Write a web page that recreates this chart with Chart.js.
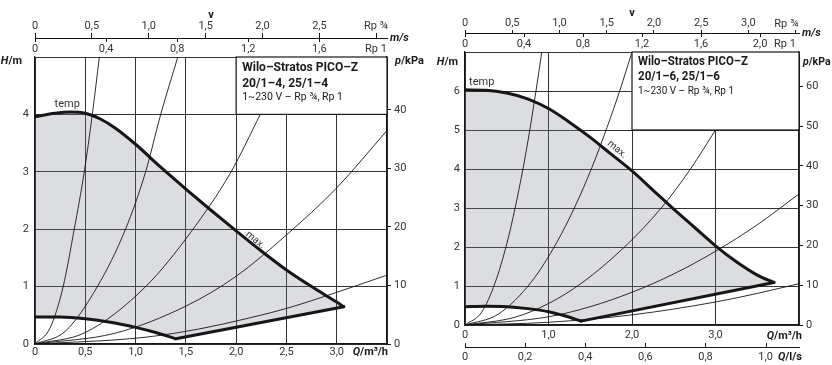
<!DOCTYPE html>
<html>
<head>
<meta charset="utf-8">
<script src="https://cdn.jsdelivr.net/npm/chart.js@4.4.1/dist/chart.umd.min.js"></script>
<style>
  html, body { margin: 0; padding: 0; background: #fff; }
  #wrap { position: relative; width: 832px; height: 365px; overflow: hidden; }
  .panel { position: absolute; top: 0; height: 365px; }
  #left { left: 0; width: 428px; }
  #right { left: 420px; width: 412px; }
</style>
</head>
<body>
<div id="wrap">
  <div class="panel" id="left"><canvas id="chart4"></canvas></div>
  <div class="panel" id="right"><canvas id="chart6"></canvas></div>
</div>
<script>
// ---- Wilo-Stratos PICO-Z 20/1-4, 25/1-4 (left) ----
const maxQ4 = [0, 0.2, 0.35, 0.5, 0.65, 0.8, 1.0, 1.25, 1.5, 1.75, 2.0, 2.25, 2.5, 2.75, 3.0, 3.07];
const maxH4 = [3.96, 4.02, 4.04, 4.02, 3.92, 3.76, 3.48, 3.08, 2.7, 2.33, 1.97, 1.62, 1.29, 1.0, 0.73, 0.65];
const minQ4 = [0, 0.25, 0.5, 0.75, 1.0, 1.2, 1.4];
const minH4 = [0.47, 0.47, 0.44, 0.38, 0.29, 0.2, 0.09];
const lowQ4 = [1.4, 3.07];
const lowH4 = [0.09, 0.65];
const sysQ4 = [
  [0, 0.15, 0.28, 0.39, 0.49, 0.57, 0.64],
  [0, 0.3, 0.62, 0.9, 1.1, 1.25, 1.42],
  [0, 0.5, 1.1, 1.55, 1.95, 2.24],
  [0, 0.8, 1.5, 2.0, 2.5, 3.0, 3.5],
  [0, 1.0, 1.5, 2.0, 2.5, 3.0, 3.5],
];
const sysH4 = [
  [0, 0.28, 1, 2, 3, 4, 5],
  [0, 0.22, 1, 2, 3, 4, 5],
  [0, 0.2, 1, 1.95, 3, 4],
  [0, 0.19, 0.66, 1.18, 1.9, 2.72, 3.72],
  [0, 0.1, 0.22, 0.4, 0.62, 0.9, 1.2],
];
const qTicks4 = [0, 0.5, 1.0, 1.5, 2.0, 2.5, 3.0, 3.5];
const hTicks4 = [0, 1, 2, 3, 4, 5];
const pTicks4 = [0, 10, 20, 30, 40];
const v34Ticks4 = [0, 0.5, 1.0, 1.5, 2.0, 2.5, 3.0];
const v1Ticks4 = [0, 0.4, 0.8, 1.2, 1.6];
const name4 = ["Wilo–Stratos PICO–Z", "20/1–4, 25/1–4", "1~230 V – Rp ¾, Rp 1"];

// ---- Wilo-Stratos PICO-Z 20/1-6, 25/1-6 (right) ----
const maxQ6 = [0, 0.25, 0.5, 0.75, 1.0, 1.25, 1.5, 1.75, 2.0, 2.25, 2.5, 2.75, 3.0, 3.25, 3.5, 3.7];
const maxH6 = [6.03, 6.02, 5.95, 5.8, 5.55, 5.2, 4.81, 4.38, 3.95, 3.46, 2.97, 2.5, 2.03, 1.62, 1.28, 1.09];
const minQ6 = [0, 0.25, 0.5, 0.75, 1.0, 1.2, 1.39];
const minH6 = [0.47, 0.48, 0.47, 0.42, 0.34, 0.23, 0.1];
const lowQ6 = [1.39, 3.7];
const lowH6 = [0.1, 1.09];
const sysQ6 = [
  [0, 0.2, 0.36, 0.5, 0.6, 0.7, 0.78, 0.85, 0.92],
  [0, 0.4, 0.8, 1.1, 1.32, 1.52, 1.7, 1.86, 2.0],
  [0, 0.6, 1.0, 1.4, 1.9, 2.35, 2.7, 3.0],
  [0, 1.0, 1.5, 2.0, 2.5, 3.0, 3.5, 4.0],
  [0, 1.0, 2.0, 3.0, 3.5, 4.0],
];
const sysH6 = [
  [0, 0.33, 1.08, 2.08, 3.0, 4.07, 5.05, 6.0, 7.0],
  [0, 0.28, 1.12, 2.12, 3.05, 4.04, 5.06, 6.05, 7.0],
  [0, 0.2, 0.55, 1.08, 1.98, 3.0, 4.0, 5.0],
  [0, 0.21, 0.47, 0.84, 1.31, 1.89, 2.57, 3.36],
  [0, 0.07, 0.26, 0.59, 0.81, 1.06],
];
const qTicks6 = [0, 1.0, 2.0, 3.0, 4.0];
const hTicks6 = [0, 1, 2, 3, 4, 5, 6, 7];
const pTicks6 = [0, 10, 20, 30, 40, 50, 60];
const v34Ticks6 = [0, 0.5, 1.0, 1.5, 2.0, 2.5, 3.0, 3.5];
const v1Ticks6 = [0, 0.4, 0.8, 1.2, 1.6, 2.0];
const lsTicks6 = [0, 0.2, 0.4, 0.6, 0.8, 1.0];
const name6 = ["Wilo–Stratos PICO–Z", "20/1–6, 25/1–6", "1~230 V – Rp ¾, Rp 1"];

const RHO_G = 9.81;   // kPa per m head
const V_RP34 = 0.884; // m/s per m³/h in Rp ¾
const V_RP1 = 0.566;  // m/s per m³/h in Rp 1

const FAMILY = "Roboto, 'Open Sans', sans-serif";
const INK = "#161616";
const GRID = "#333";
const TXT = "#333";
const FILL = "rgba(120,125,140,0.26)";

const fmt = (v) => (v === 0 ? "0" : v.toFixed(1).replace(".", ","));
const lastBlank = (f) => (v, i, arr) => (i === arr.length - 1 ? "" : f(v));
const setTicks = (vals) => (s) => {
  s.ticks = vals.map((v) => ({ value: v }));
};
const pts = (qs, hs) => qs.map((q, i) => ({ x: q, y: hs[i] }));

const richText = (ctx, parts, x, y, align, size) => {
  const fontOf = (it) => `${it ? "italic " : ""}bold ${size}px ${FAMILY}`;
  let total = 0;
  parts.forEach(([t, it]) => {
    ctx.font = fontOf(it);
    total += ctx.measureText(t).width;
  });
  let cx = align === "right" ? x - total : align === "center" ? x - total / 2 : x;
  ctx.textAlign = "left";
  ctx.textBaseline = "middle";
  parts.forEach(([t, it]) => {
    ctx.font = fontOf(it);
    ctx.fillText(t, cx, y);
    cx += ctx.measureText(t).width;
  });
};

const overlay = {
  id: "overlay",
  afterDatasetsDraw(chart, args, o) {
    const { ctx, chartArea: a, scales } = chart;
    const bx = scales.x.getPixelForValue(o.boxQ);
    const by = scales.y.getPixelForValue(o.boxH);
    ctx.save();
    ctx.fillStyle = "#fff";
    ctx.fillRect(bx, a.top, a.right - bx, by - a.top);
    ctx.strokeStyle = INK;
    ctx.lineWidth = 1.2;
    ctx.strokeRect(bx, a.top, a.right - bx, by - a.top);
    ctx.fillStyle = "#1a1a1a";
    ctx.textAlign = "left";
    ctx.textBaseline = "middle";
    o.name.forEach((line, i) => {
      ctx.font = `${i < 2 ? "bold " : ""}${o.nameSize[i]}px ${FAMILY}`;
      ctx.fillText(line, bx + o.namePad, a.top + o.nameY[i], o.nameW[i]);
    });
    ctx.restore();
  },
  afterDraw(chart, args, o) {
    const { ctx, chartArea: a, scales } = chart;
    const v34 = scales.v34;
    const v1 = scales.v1;
    const lineY = v34.bottom;
    ctx.save();
    ctx.strokeStyle = INK;
    ctx.lineWidth = 1;
    // Rp 1 ticks hang below the shared velocity line
    v1.ticks.forEach((t) => {
      const x = Math.round(v1.getPixelForValue(t.value)) + 0.5;
      ctx.beginPath();
      ctx.moveTo(x, lineY);
      ctx.lineTo(x, lineY + 4);
      ctx.stroke();
    });
    if (scales.ls) {
      const ls = scales.ls;
      ls.ticks.forEach((t) => {
        const x = Math.round(ls.getPixelForValue(t.value)) + 0.5;
        ctx.beginPath();
        ctx.moveTo(x, ls.top);
        ctx.lineTo(x, ls.top - 4);
        ctx.stroke();
      });
    }

    ctx.fillStyle = "#1a1a1a";
    richText(ctx, [["v", false]], (a.left + a.right) / 2, o.vY, "center", 11);
    richText(ctx, [["m/s", true]], a.right + 3, lineY, "left", 11);
    richText(ctx, [["H", true], ["/m", false]], a.left - o.hGap, o.unitY, "right", 11);
    richText(ctx, [["p", true], ["/kPa", false]], a.right + o.pGap, o.unitY, "left", o.pSize);
    richText(ctx, [["Q", true], ["/m³/h", false]], a.right + o.qGap, o.qY, "right", 11);
    if (scales.ls) {
      richText(ctx, [["Q", true], ["/l/s", false]], a.right + o.qGap, o.lsY, "right", 11);
    }

    ctx.fillStyle = TXT;
    ctx.font = `11px ${FAMILY}`;
    ctx.textAlign = "center";
    ctx.textBaseline = "middle";
    ctx.fillText("Rp ¾", a.right - o.rpOff[0], o.rpY[0]);
    ctx.fillText("Rp 1", a.right - o.rpOff[1], o.rpY[1]);
    ctx.fillText("temp", scales.x.getPixelForValue(o.temp[0]), scales.y.getPixelForValue(o.temp[1]));
    ctx.translate(scales.x.getPixelForValue(o.maxLbl[0]), scales.y.getPixelForValue(o.maxLbl[1]));
    ctx.rotate((o.maxLbl[2] * Math.PI) / 180);
    ctx.font = `10px ${FAMILY}`;
    ctx.fillText("max.", 0, 0);
    ctx.restore();
  },
};

const makePanel = (id, p) => {
  const tickFont = { family: FAMILY, size: 11 };
  const fillPts = pts(p.maxQ, p.maxH)
    .concat(pts(p.lowQ, p.lowH).reverse().slice(1))
    .concat(pts(p.minQ, p.minH).reverse().slice(1));
  const thick = { borderColor: INK, borderWidth: 3, borderCapStyle: "round", pointRadius: 0 };
  const datasets = [
    { ...thick, data: pts(p.maxQ, p.maxH), cubicInterpolationMode: "monotone" },
    { ...thick, data: pts(p.minQ, p.minH), cubicInterpolationMode: "monotone" },
    { ...thick, data: pts(p.lowQ, p.lowH) },
    ...p.sysQ.map((qs, i) => ({
      data: pts(qs, p.sysH[i]),
      borderColor: INK,
      borderWidth: 0.9,
      pointRadius: 0,
      cubicInterpolationMode: "monotone",
    })),
    {
      data: fillPts,
      borderWidth: 0,
      borderColor: "rgba(0,0,0,0)",
      backgroundColor: FILL,
      fill: "shape",
      tension: 0,
      pointRadius: 0,
    },
  ];

  const scales = {
    x: {
      type: "linear", position: "bottom", weight: 1, min: 0, max: p.qMax,
      afterBuildTicks: setTicks(p.qTicks),
      afterFit: (s) => { s.height = p.xH; },
      grid: { color: GRID, lineWidth: 1, drawTicks: false },
      border: { color: INK, width: 1.2 },
      ticks: { font: tickFont, color: TXT, padding: p.xPad, maxRotation: 0, autoSkip: false, callback: lastBlank(fmt) },
    },
    y: {
      type: "linear", position: "left", min: 0, max: p.hMax,
      afterBuildTicks: setTicks(p.hTicks),
      afterFit: (s) => { s.width = p.yW; },
      grid: { color: GRID, lineWidth: 1, drawTicks: false },
      border: { color: INK, width: 1.2 },
      ticks: { font: tickFont, color: TXT, padding: p.yPad, callback: lastBlank((v) => String(v)) },
    },
    p: {
      type: "linear", position: "right", min: 0, max: p.hMax * RHO_G,
      afterBuildTicks: setTicks(p.pTicks),
      afterFit: (s) => { s.width = p.pW; },
      grid: { drawOnChartArea: false, drawTicks: true, tickLength: 4, color: INK },
      border: { color: INK, width: 1.2 },
      ticks: { font: tickFont, color: TXT, padding: 3, callback: (v) => String(v) },
    },
    v34: {
      type: "linear", position: "top", weight: 2, min: 0, max: p.qMax * V_RP34,
      afterBuildTicks: setTicks(p.v34Ticks),
      afterFit: (s) => { s.height = p.v34H; },
      grid: { drawOnChartArea: false, drawTicks: true, tickLength: p.vTick, color: INK },
      border: { color: INK, width: 1 },
      ticks: { font: tickFont, color: TXT, padding: 0, maxRotation: 0, autoSkip: false, callback: lastBlank(fmt) },
    },
    v1: {
      type: "linear", position: "top", weight: 1, min: 0, max: p.qMax * V_RP1,
      afterBuildTicks: setTicks(p.v1Ticks),
      afterFit: (s) => { s.height = p.v1H; },
      grid: { display: false, drawTicks: false },
      border: { display: false },
      ticks: { font: tickFont, color: TXT, padding: p.v1Pad, maxRotation: 0, autoSkip: false, callback: fmt },
    },
  };
  if (p.lsTicks) {
    scales.ls = {
      type: "linear", position: "bottom", weight: 2, min: 0, max: p.qMax / 3.6,
      afterBuildTicks: setTicks(p.lsTicks),
      afterFit: (s) => { s.height = p.lsH; },
      grid: { display: false, drawTicks: false },
      border: { display: true, color: INK, width: 1 },
      ticks: { font: tickFont, color: TXT, padding: p.lsPad, maxRotation: 0, autoSkip: false, callback: fmt },
    };
  }

  return new Chart(document.getElementById(id), {
    type: "scatter",
    data: { datasets: datasets.map((d) => ({ showLine: true, ...d })) },
    options: {
      responsive: true,
      maintainAspectRatio: false,
      animation: false,
      events: [],
      layout: { padding: 0 },
      plugins: { legend: { display: false }, tooltip: { enabled: false }, overlay: p.overlay },
      scales,
    },
    plugins: [overlay],
  });
};

makePanel("chart4", {
  maxQ: maxQ4, maxH: maxH4, minQ: minQ4, minH: minH4, lowQ: lowQ4, lowH: lowH4,
  sysQ: sysQ4, sysH: sysH4,
  qMax: 3.5, hMax: 5,
  qTicks: qTicks4, hTicks: hTicks4, pTicks: pTicks4, v34Ticks: v34Ticks4, v1Ticks: v1Ticks4,
  xH: 21, xPad: 1.5, yW: 35, yPad: 6, pW: 41, v34H: 38, vTick: 5, v1H: 19, v1Pad: 1,
  overlay: {
    boxQ: 2.0, boxH: 4, name: name4, nameSize: [12.5, 12.5, 10.5], nameY: [11, 26.5, 40.5],
    nameW: [116, 86, 110], namePad: 6,
    vY: 15, unitY: 61.5, hGap: 13, pGap: 8, pSize: 11, qGap: 1, qY: 352,
    rpOff: [11, 11], rpY: [26.5, 49.4],
    temp: [0.32, 4.17], maxLbl: [2.19, 1.81, 39],
  },
});

makePanel("chart6", {
  maxQ: maxQ6, maxH: maxH6, minQ: minQ6, minH: minH6, lowQ: lowQ6, lowH: lowH6,
  sysQ: sysQ6, sysH: sysH6,
  qMax: 4.0, hMax: 7,
  qTicks: qTicks6, hTicks: hTicks6, pTicks: pTicks6, v34Ticks: v34Ticks6, v1Ticks: v1Ticks6,
  lsTicks: lsTicks6,
  xH: 22, xPad: 4, yW: 45, yPad: 5, pW: 33, v34H: 33, vTick: 3, v1H: 19, v1Pad: 1.4,
  lsH: 18, lsPad: 3.4,
  overlay: {
    boxQ: 2.0, boxH: 5, name: name6, nameSize: [12, 12, 10], nameY: [10, 25, 39],
    nameW: [110, 82, 100], namePad: 6,
    vY: 13, unitY: 62, hGap: 7, pGap: 4, pSize: 10.5, qGap: 3, qY: 336, lsY: 357,
    rpOff: [12.6, 14], rpY: [24, 44],
    temp: [0.2, 6.23], maxLbl: [1.82, 4.5, 39],
  },
});
</script>
</body>
</html>
